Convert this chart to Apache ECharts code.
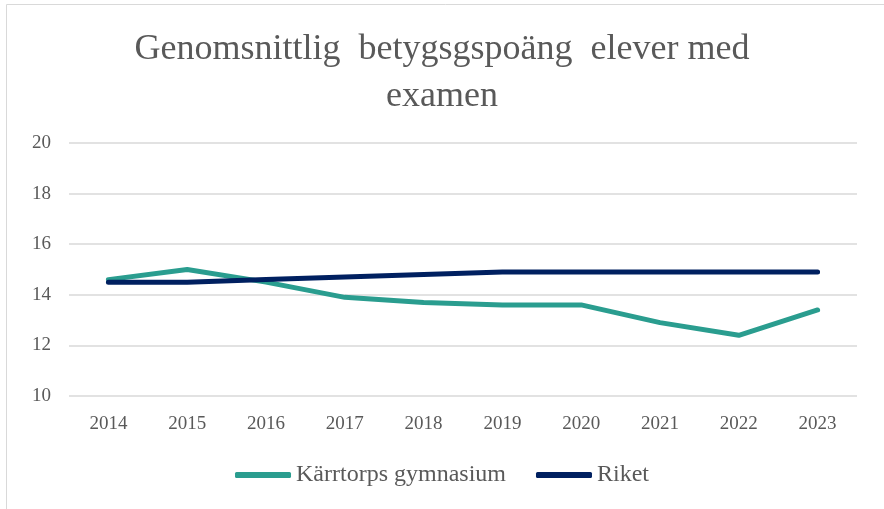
<!DOCTYPE html>
<html><head><meta charset="utf-8">
<script src="https://cdn.jsdelivr.net/npm/echarts@6/dist/echarts.min.js"></script>
<style>html,body{margin:0;padding:0;background:#fff}#c{width:884px;height:509px}</style>
</head><body><div id="c"></div>
<script>
var years = ['2014','2015','2016','2017','2018','2019','2020','2021','2022','2023'];
var karrtorp = [14.6, 15.0, 14.5, 13.9, 13.7, 13.6, 13.6, 12.9, 12.4, 13.4];
var riket = [14.5, 14.5, 14.6, 14.7, 14.8, 14.9, 14.9, 14.9, 14.9, 14.9];
var seriesNames = ['Kärrtorps gymnasium', 'Riket'];
var titleText = 'Genomsnittlig  betygsgspoäng  elever med\nexamen';

var font = 'Liberation Serif, Times New Roman, serif';
var chart = echarts.init(document.getElementById('c'));
chart.setOption({
  animation: false,
  graphic: [{type:'rect', shape:{x:6.5,y:4.5,width:900,height:600}, style:{fill:null, stroke:'#d9d9d9', lineWidth:1}, silent:true}],
  title: {text: titleText, left: 'center', top: 21, textStyle:{fontFamily: font, fontWeight:'normal', fontSize: 36, color:'#595959', lineHeight: 47}},
  legend: {bottom: 17, left: 'center', itemWidth: 56, itemHeight: 6, itemGap: 30, icon: 'roundRect',
    textStyle:{fontFamily: font, fontSize: 24, color:'#595959', padding:[0,0,0,0]}, data: seriesNames},
  grid: {left: 69, right: 27, top: 143, bottom: 113},
  xAxis: {type:'category', data: years, boundaryGap: true,
    axisLine:{show:false}, axisTick:{show:false},
    axisLabel:{fontFamily: font, fontSize: 19, color:'#595959', margin: 19}},
  yAxis: {type:'value', min:10, max:20, interval:2,
    axisLine:{show:false}, axisTick:{show:false},
    splitLine:{lineStyle:{color:'#d9d9d9', width:1.5}},
    axisLabel:{fontFamily: font, fontSize: 19, color:'#595959', margin: 18}},
  series: [
    {name: seriesNames[0], type:'line', data: karrtorp, symbol:'none', lineStyle:{color:'#2a9d8f', width:5, cap:'round', join:'round'}, itemStyle:{color:'#2a9d8f'}},
    {name: seriesNames[1], type:'line', data: riket, symbol:'none', lineStyle:{color:'#002060', width:5, cap:'round', join:'round'}, itemStyle:{color:'#002060'}}
  ]
});
</script></body></html>
